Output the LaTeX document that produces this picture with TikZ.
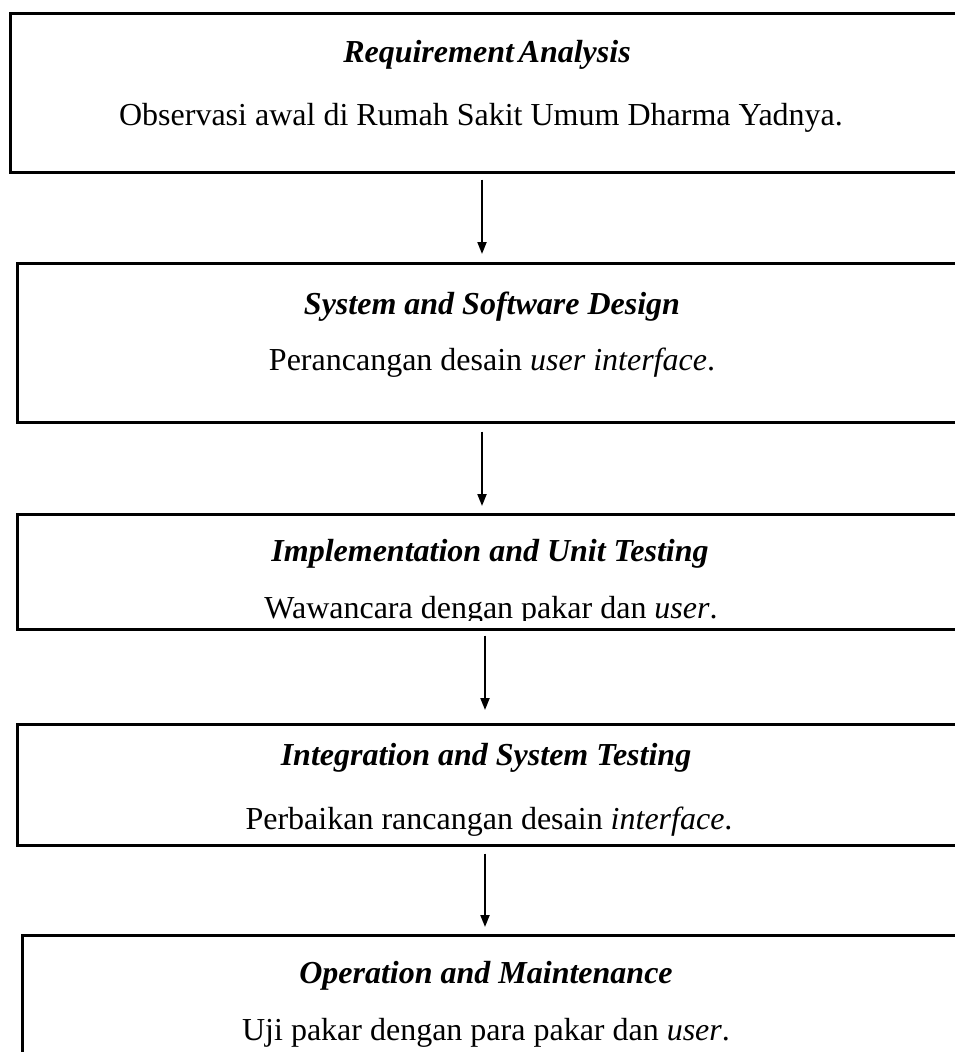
\documentclass[tikz,border=0pt]{standalone}
\usepackage{fontspec}
\setmainfont{Liberation Serif}
\usetikzlibrary{arrows.meta}
\tikzset{
  stagebox/.style={draw=black, line width=2.6pt, rectangle, inner sep=0pt, anchor=north west},
  ttl/.style={anchor=base, inner sep=0pt, font=\fontsize{32}{38}\selectfont\bfseries\itshape},
  bdy/.style={anchor=base, inner sep=0pt, font=\fontsize{32}{38}\selectfont},
  arr/.style={line width=2pt, -{Triangle[length=12pt,width=9pt]}}
}
\begin{document}
\begin{tikzpicture}[x=1pt,y=-1pt]
\useasboundingbox (0,0) rectangle (955,1052);
\clip (0,0) rectangle (955,1052);
% boxes
\node[stagebox, minimum width=970pt, minimum height=159pt] (b1) at (9,12) {};
\node[stagebox, minimum width=960pt, minimum height=159pt] (b2) at (16,262) {};
\node[stagebox, minimum width=960pt, minimum height=115pt] (b3) at (16,513) {};
\node[stagebox, minimum width=960pt, minimum height=121pt] (b4) at (16,723) {};
\node[stagebox, minimum width=960pt, minimum height=160pt] (b5) at (21,934) {};
% texts
\node[ttl] (t1) at (487,62) {Requirement\hspace{0.15em}Analysis};
\node[bdy] (d1) at (481,125) {Observasi awal di Rumah Sakit Umum Dharma Yadnya.};
\node[ttl] (t2) at (492,314) {System and Software Design};
\node[bdy] (d2) at (492,370) {Perancangan desain \textit{user interface}.};
\node[ttl] (t3) at (490,561) {Implementation and Unit Testing};
\begin{scope}
\clip (0,513) rectangle (955,620);
\node[bdy] (d3) at (491,618) {Wawancara dengan pakar dan \textit{user}.};
\end{scope}
\node[ttl] (t4) at (486,765) {Integration and System Testing};
\node[bdy] (d4) at (489,829) {Perbaikan rancangan desain \textit{interface}.};
\node[ttl] (t5) at (486,983) {Operation and Maintenance};
\node[bdy] (d5) at (486,1040) {Uji pakar dengan para pakar dan \textit{user}.};
% arrows
\coordinate (xa) at (482,0);
\coordinate (xb) at (485,0);
\draw[arr, shorten <=6pt, shorten >=8pt] (xa |- b1.south) -- (xa |- b2.north);
\draw[arr, shorten <=8pt, shorten >=7pt] (xa |- b2.south) -- (xa |- b3.north);
\draw[arr, shorten <=5pt, shorten >=13pt] (xb |- b3.south) -- (xb |- b4.north);
\draw[arr, shorten <=7pt, shorten >=7pt] (xb |- b4.south) -- (xb |- b5.north);
\end{tikzpicture}
\end{document}
